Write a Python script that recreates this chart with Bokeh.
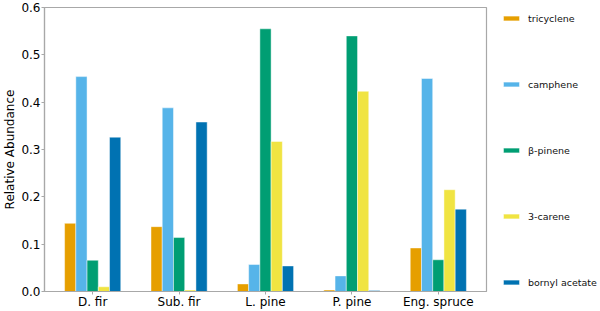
from bokeh.plotting import figure
from bokeh.layouts import row
from bokeh.models import ColumnDataSource, FactorRange, Legend, LegendItem, PrintfTickFormatter, Range1d
from bokeh.transform import dodge
from bokeh.embed import file_html
from bokeh.resources import INLINE

species = ["D. fir", "Sub. fir", "L. pine", "P. pine", "Eng. spruce"]
compounds = ["tricyclene", "camphene", "β-pinene", "3-carene", "bornyl acetate"]
tricyclene = [0.144, 0.137, 0.016, 0.003, 0.092]
camphene = [0.454, 0.388, 0.057, 0.033, 0.450]
beta_pinene = [0.066, 0.114, 0.555, 0.540, 0.067]
carene = [0.010, 0.003, 0.317, 0.423, 0.215]
bornyl_acetate = [0.326, 0.358, 0.054, 0.002, 0.174]
colors = ["#E69F00", "#56B4E9", "#009E73", "#F0E442", "#0072B2"]
y_ticks = [0.0, 0.1, 0.2, 0.3, 0.4, 0.5, 0.6]

series = [tricyclene, camphene, beta_pinene, carene, bornyl_acetate]
keys = ["s0", "s1", "s2", "s3", "s4"]
data = {"species": species}
for k, s in zip(keys, series):
    data[k] = s
source = ColumnDataSource(data)

FONT = "DejaVu Sans"
GRAY = "#a8a8a8"

p = figure(width=488, height=311, output_backend="svg", toolbar_location=None,
           x_range=FactorRange(*species, range_padding=0.023),
           y_range=Range1d(0, 0.6),
           min_border_left=40, min_border_right=2, min_border_top=7, min_border_bottom=0)

bar_w = 0.13
offsets = [-0.26, -0.13, 0.0, 0.13, 0.26]
for k, off, c in zip(keys, offsets, colors):
    p.vbar(x=dodge("species", off, range=p.x_range), top=k, width=bar_w, source=source,
           fill_color=c, line_color="white", line_alpha=0.45, line_width=1)

p.xgrid.visible = False
p.ygrid.visible = False
p.background_fill_color = "white"
p.border_fill_color = "white"
p.outline_line_color = GRAY
p.outline_line_width = 1.2

p.yaxis.ticker = y_ticks
p.yaxis.formatter = PrintfTickFormatter(format="%.1f")
p.yaxis.axis_label = "Relative Abundance"
p.yaxis.axis_label_text_font = FONT
p.yaxis.axis_label_text_font_size = "12px"
p.yaxis.axis_label_text_font_style = "normal"
p.yaxis.axis_label_text_color = "black"
p.yaxis.axis_label_standoff = 1

for ax in (p.xaxis, p.yaxis):
    ax.axis_line_color = GRAY
    ax.axis_line_width = 1.2
    ax.major_tick_line_color = GRAY
    ax.major_tick_out = 3
    ax.major_tick_in = 0
    ax.minor_tick_line_color = None
    ax.major_label_text_font = FONT
    ax.major_label_text_font_size = "12px"
    ax.major_label_text_color = "black"
    ax.major_label_standoff = 1
p.xaxis.major_label_standoff = 0

p.x_range.group_padding = 0

# legend panel (swatches only: NaN heights draw nothing in the panel itself)
lg = figure(width=112, height=311, output_backend="svg", toolbar_location=None,
            x_range=Range1d(0, 1), y_range=Range1d(0, 1),
            x_axis_type=None, y_axis_type=None,
            min_border_left=0, min_border_right=0, min_border_top=0, min_border_bottom=0)
lg.outline_line_color = None
lg.xgrid.visible = False
lg.ygrid.visible = False
swatch = ColumnDataSource(dict(x=[0.5], top=[float("nan")]))
items = []
for lab, c in zip(compounds, colors):
    r = lg.vbar(x="x", top="top", width=0.1, source=swatch,
                fill_color=c, line_color="white", line_alpha=0.45, line_width=1)
    items.append(LegendItem(label=lab, renderers=[r], index=0))

legend = Legend(items=items, location=(13, 3), orientation="vertical",
                glyph_width=20, glyph_height=6, label_height=12, label_standoff=7,
                spacing=54, padding=0, margin=0,
                border_line_alpha=0, background_fill_alpha=0,
                label_text_font=FONT, label_text_font_size="9.5px", label_text_color="#111111")
lg.add_layout(legend, "center")

layout = row(p, lg)
open("out.html", "w").write(file_html(layout, INLINE))
